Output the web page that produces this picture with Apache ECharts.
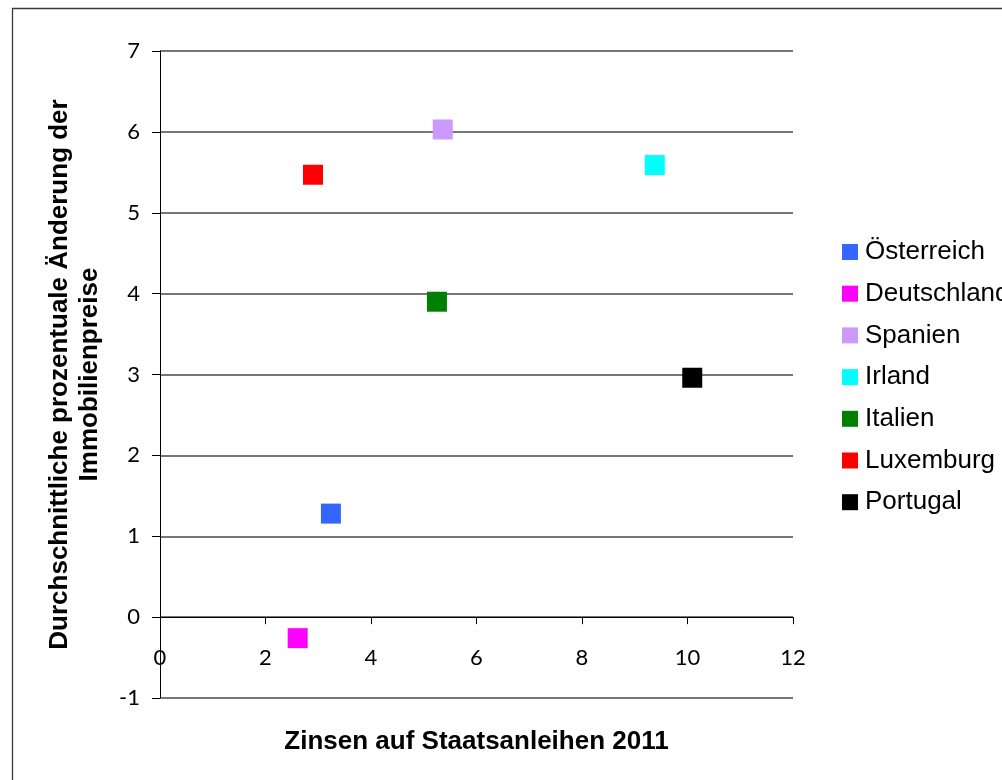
<!DOCTYPE html>
<html>
<head>
<meta charset="utf-8">
<script src="https://cdn.jsdelivr.net/npm/echarts@6/dist/echarts.min.js"></script>
<style>
html,body{margin:0;padding:0;background:#fff;}
#chart{width:1002px;height:780px;}
</style>
</head>
<body>
<div id="chart"></div>
<script>
// Data
const countries = ['Österreich', 'Deutschland', 'Spanien', 'Irland', 'Italien', 'Luxemburg', 'Portugal'];
const bondYield2011 = [3.24, 2.61, 5.36, 9.38, 5.25, 2.90, 10.09];
const housePriceChange = [1.28, -0.26, 6.03, 5.59, 3.90, 5.47, 2.96];
const seriesColors = ['#3366FF', '#FF00FF', '#CC99FF', '#00FFFF', '#008000', '#FF0000', '#000000'];
const xAxisTitle = 'Zinsen auf Staatsanleihen 2011';
const yAxisTitle = 'Durchschnittliche prozentuale Änderung der\nImmobilienpreise';

const chart = echarts.init(document.getElementById('chart'), null, {renderer: 'canvas'});

const series = countries.map((name, i) => ({
  name: name,
  type: 'scatter',
  symbol: 'rect',
  symbolSize: 20,
  itemStyle: {color: seriesColors[i], opacity: 1},
  data: [[bondYield2011[i], housePriceChange[i]]]
}));

const option = {
  animation: false,
  backgroundColor: '#ffffff',
  graphic: [{
    type: 'rect',
    shape: {x: 12.5, y: 8.5, width: 1200, height: 1000},
    style: {fill: 'none', stroke: '#3a3a3a', lineWidth: 1.3},
    silent: true,
    z: 0
  }],
  grid: {left: 160, right: 209, top: 51, bottom: 82, containLabel: false, outerBoundsMode: 'none'},
  legend: {
    orient: 'vertical',
    left: 837,
    top: 234,
    itemWidth: 16,
    itemHeight: 16,
    itemGap: 15.7,
    icon: 'rect',
    data: countries,
    textStyle: {
      fontFamily: 'Liberation Sans',
      fontSize: 26,
      lineHeight: 26,
      color: '#000',
      padding: [0, 0, 0, 2]
    }
  },
  xAxis: {
    type: 'value',
    min: 0,
    max: 12,
    interval: 2,
    name: xAxisTitle,
    nameLocation: 'middle',
    nameGap: 31,
    nameTextStyle: {fontFamily: 'Liberation Sans', fontSize: 26, fontWeight: 'bold', color: '#000'},
    axisLine: {show: true, onZero: true, lineStyle: {color: '#000', width: 1}},
    axisTick: {show: true, inside: false, length: 7, lineStyle: {color: '#000'}},
    axisLabel: {fontFamily: 'Lato', fontSize: 22, color: '#000', margin: -51},
    splitLine: {show: false}
  },
  yAxis: {
    type: 'value',
    min: -1,
    max: 7,
    interval: 1,
    name: yAxisTitle,
    nameLocation: 'middle',
    nameRotate: 90,
    nameGap: 55,
    nameTextStyle: {fontFamily: 'Liberation Sans', fontSize: 26, fontWeight: 'bold', color: '#000', lineHeight: 30, align: 'center'},
    axisLine: {show: true, onZero: false, lineStyle: {color: '#000', width: 1}},
    axisTick: {show: true, inside: false, length: 8, lineStyle: {color: '#000'}},
    axisLabel: {fontFamily: 'Lato', fontSize: 22, color: '#000', margin: 20},
    splitLine: {show: true, lineStyle: {color: '#4a4a4a', width: 1.5}}
  },
  series: series
};

chart.setOption(option);
</script>
</body>
</html>
